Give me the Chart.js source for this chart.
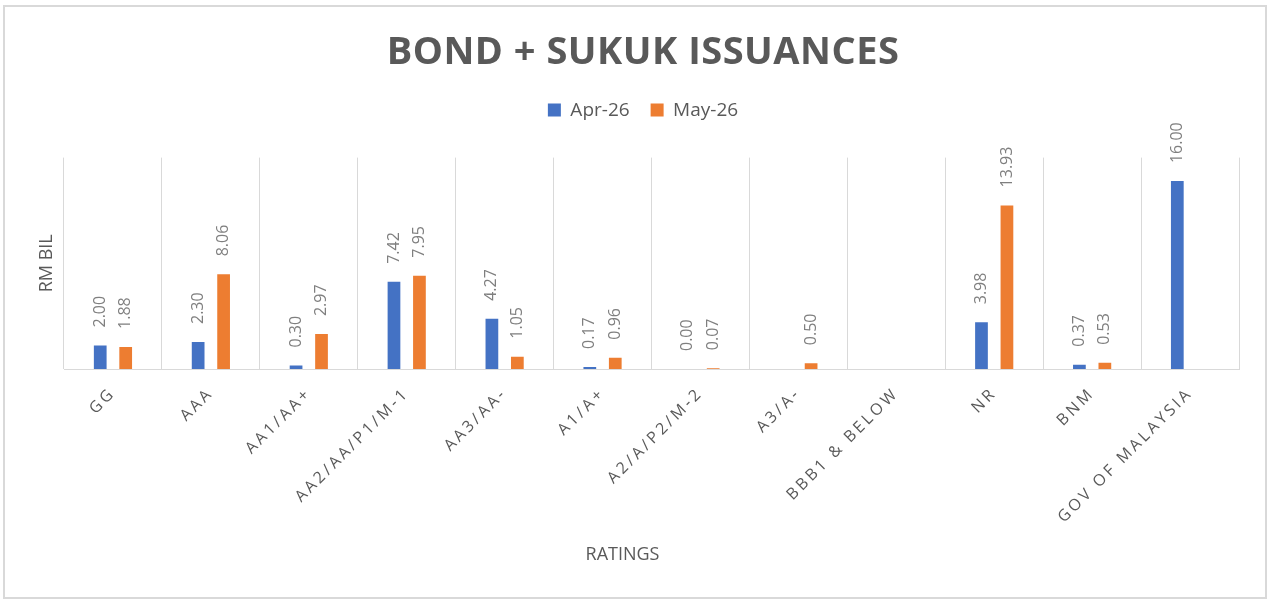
<!DOCTYPE html>
<html>
<head>
<meta charset="utf-8">
<script src="https://cdn.jsdelivr.net/npm/chart.js@4.4.1/dist/chart.umd.min.js"></script>
<style>
  html, body { margin: 0; padding: 0; background: #fff; }
  #wrap { position: relative; width: 1271px; height: 602px; }
  #frame { position: absolute; left: 3px; top: 5px; width: 1264px; height: 594px; box-sizing: border-box; border: 2px solid #d9d9d9; }
  canvas { position: absolute; left: 0; top: 0; }
</style>
</head>
<body>
<div id="wrap">
  <div id="frame"></div>
  <canvas id="issuanceChart" width="1271" height="602"></canvas>
</div>
<script>
// Ratings on the x axis
const categories = ['GG', 'AAA', 'AA1/AA+', 'AA2/AA/P1/M-1', 'AA3/AA-', 'A1/A+', 'A2/A/P2/M-2',
    'A3/A-', 'BBB1 & BELOW', 'NR', 'BNM', 'GOV OF MALAYSIA'];

// RM bil, null = no issuance shown
const apr26 = [2.00, 2.30, 0.30, 7.42, 4.27, 0.17, 0.00, null, null, 3.98, 0.37, 16.00];
const may26 = [1.88, 8.06, 2.97, 7.95, 1.05, 0.96, 0.07, 0.50, null, 13.93, 0.53, null];

const yMin = 0;
const yMax = 18;

const GREY = '#595959';
const FONT = "'Open Sans', sans-serif";

Chart.defaults.font.family = FONT;
Chart.defaults.color = GREY;

// Excel spaces out the axis labels and title a little, canvas can do that too
function withSpacing(proto, method, spacing) {
    const orig = proto[method];
    proto[method] = function (...args) {
        this.ctx.save();
        this.ctx.letterSpacing = spacing;
        orig.apply(this, args);
        this.ctx.restore();
    };
}
withSpacing(Chart.CategoryScale.prototype, 'drawLabels', '3px');
if (Chart.Title && Chart.Title._element) {
    withSpacing(Chart.Title._element.prototype, 'draw', '0.5px');
}

// Rotated value labels above each bar
const valueLabels = {
    id: 'valueLabels',
    afterDatasetsDraw(chart) {
        const ctx = chart.ctx;
        ctx.save();
        ctx.font = `16px ${FONT}`;
        ctx.fillStyle = '#7f7f7f';
        ctx.textAlign = 'left';
        ctx.textBaseline = 'middle';
        chart.data.datasets.forEach((ds, i) => {
            chart.getDatasetMeta(i).data.forEach((bar, j) => {
                const v = ds.data[j];
                if (v === null || v === undefined) return;
                ctx.save();
                ctx.translate(bar.x, bar.y - 18);
                ctx.rotate(-Math.PI / 2);
                ctx.fillText(v.toFixed(2), 0, 0);
                ctx.restore();
            });
        });
        ctx.restore();
    }
};

// extra room between the legend and the plot
const legendGap = {
    id: 'legendGap',
    beforeInit(chart) {
        const fit = chart.legend.fit;
        chart.legend.fit = function () {
            fit.call(this);
            this.height += 28;
        };
    }
};

// x axis title sits a bit left of the plot centre in the original
const xTitle = {
    id: 'xTitle',
    afterDraw(chart, args, opts) {
        const { ctx, chartArea } = chart;
        ctx.save();
        ctx.font = `18px ${FONT}`;
        ctx.fillStyle = GREY;
        ctx.textAlign = 'center';
        ctx.textBaseline = 'middle';
        ctx.fillText(opts.text, (chartArea.left + chartArea.right) / 2 + opts.shiftX, chartArea.bottom + opts.offsetY);
        ctx.restore();
    }
};

const ctx = document.getElementById('issuanceChart');

new Chart(ctx, {
    type: 'bar',
    data: {
        labels: categories,
        datasets: [
            {
                label: 'Apr-26',
                data: apr26,
                backgroundColor: '#4472C4',
                borderWidth: 0,
                categoryPercentage: 0.52,
                barPercentage: 0.5
            },
            {
                label: 'May-26',
                data: may26,
                backgroundColor: '#ED7D31',
                borderWidth: 0,
                categoryPercentage: 0.52,
                barPercentage: 0.5
            }
        ]
    },
    options: {
        responsive: false,
        animation: false,
        layout: {
            // title and legend are centred on the whole frame, not the plot
            padding: { left: 47, right: 32, top: 0, bottom: 0 }
        },
        plugins: {
            title: {
                display: true,
                text: 'BOND + SUKUK ISSUANCES',
                color: GREY,
                font: { family: FONT, size: 38, weight: 'bold' },
                padding: { top: 30, bottom: 4 }
            },
            legend: {
                position: 'top',
                labels: {
                    boxWidth: 13,
                    boxHeight: 13,
                    padding: 21,
                    color: GREY,
                    font: { family: FONT, size: 19 }
                }
            },
            tooltip: { enabled: false },
            xTitle: { text: 'RATINGS', shiftX: -29, offsetY: 186 }
        },
        scales: {
            x: {
                grid: {
                    offset: true,
                    color: '#d9d9d9',
                    lineWidth: 1,
                    drawTicks: false
                },
                border: { color: '#d9d9d9', width: 1 },
                ticks: {
                    autoSkip: false,
                    minRotation: 45,
                    maxRotation: 45,
                    padding: 15,
                    color: GREY,
                    font: { family: FONT, size: 16 }
                },
                afterFit(scale) {
                    scale.height = 233;
                }
            },
            y: {
                min: yMin,
                max: yMax,
                grid: { display: false },
                border: { display: false },
                ticks: { display: false },
                title: {
                    display: true,
                    text: 'RM BIL',
                    color: GREY,
                    font: { family: FONT, size: 18 },
                    padding: { top: -11, bottom: 0 }
                },
                afterFit(scale) {
                    scale.width = 17;
                }
            }
        }
    },
    plugins: [valueLabels, legendGap, xTitle]
});
</script>
</body>
</html>
